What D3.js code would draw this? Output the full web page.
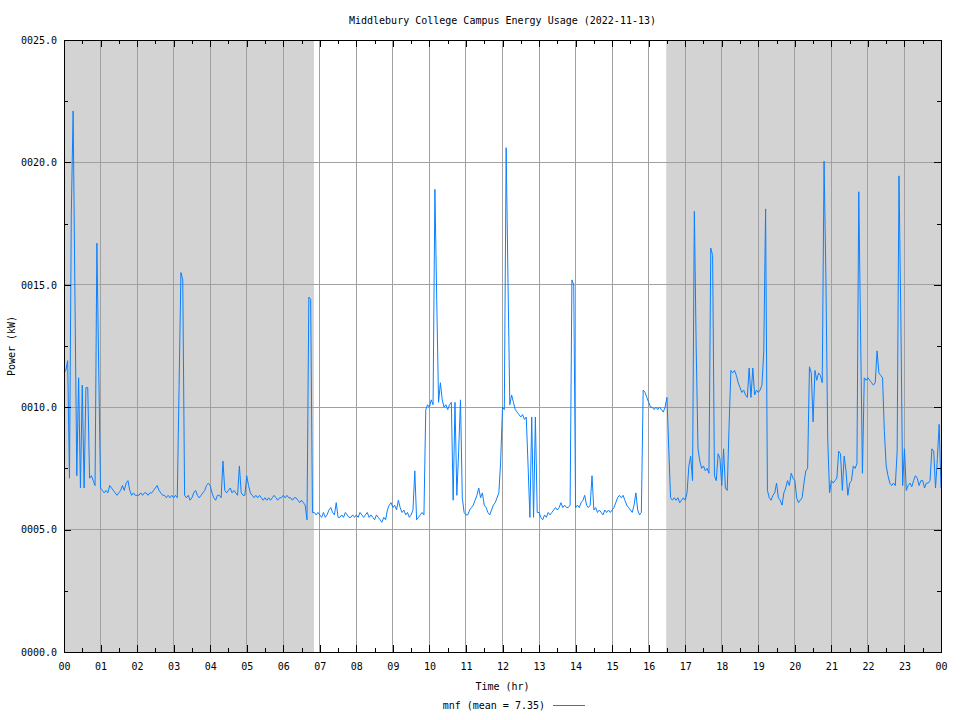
<!DOCTYPE html>
<html>
<head>
<meta charset="utf-8">
<script src="https://cdn.jsdelivr.net/npm/d3@7"></script>
<style>
    body { margin: 0; background: #fff; }
    svg text { font-family: 'DejaVu Sans Mono', monospace; font-size: 10px; fill: #000; }
</style>
</head>
<body>
<div id="chart"></div>
<script>
const chartTitle = 'Middlebury College Campus Energy Usage (2022-11-13)';
const xTitle = 'Time (hr)';
const yTitle = 'Power (kW)';
const seriesName = 'mnf';
const meanLabel = '7.35';

const stepMinutes = 3;
const hourTicks = d3.range(0, 25);
const halfHourTicks = d3.range(0.5, 24, 1);
const powerTicks = [0, 5, 10, 15, 20, 25];
const powerMinorTicks = [2.5, 7.5, 12.5, 17.5, 22.5];
// night shading (before sunrise / after sunset), hours
const nightBands = [[0, 6.84], [16.48, 24]];

// power readings in kW, one every 3 minutes
const hour00 = [11.4, 11.5, 11.9, 7.1, 17.9, 22.1, 14.5, 7.2, 11.2, 6.7, 10.9, 6.7, 10.8, 10.8, 7.1, 7.2, 7.0, 6.8, 16.7, 11.6];
const hour01 = [6.7, 6.6, 6.5, 6.6, 6.5, 6.8, 6.7, 6.6, 6.5, 6.4, 6.5, 6.6, 6.8, 6.6, 6.9, 7.0, 6.6, 6.4, 6.5, 6.4];
const hour02 = [6.4, 6.4, 6.5, 6.4, 6.5, 6.5, 6.4, 6.5, 6.5, 6.6, 6.7, 6.8, 6.6, 6.5, 6.4, 6.4, 6.3, 6.4, 6.3, 6.4];
const hour03 = [6.3, 6.4, 6.3, 10.9, 15.5, 15.2, 6.4, 6.3, 6.4, 6.2, 6.3, 6.5, 6.6, 6.4, 6.3, 6.4, 6.5, 6.6, 6.8, 6.9];
const hour04 = [6.8, 6.5, 6.3, 6.2, 6.4, 6.4, 6.3, 7.8, 6.6, 6.5, 6.6, 6.7, 6.5, 6.6, 6.5, 6.4, 7.6, 6.5, 6.4, 6.4];
const hour05 = [7.2, 6.8, 6.5, 6.4, 6.3, 6.4, 6.3, 6.4, 6.3, 6.2, 6.3, 6.2, 6.3, 6.2, 6.3, 6.4, 6.3, 6.2, 6.3, 6.3];
const hour06 = [6.4, 6.3, 6.4, 6.3, 6.3, 6.2, 6.3, 6.3, 6.2, 6.1, 6.2, 6.1, 6.0, 5.4, 14.5, 14.4, 5.7, 5.7, 5.6, 5.7];
const hour07 = [5.6, 5.5, 5.7, 5.5, 5.6, 5.8, 5.9, 5.7, 5.6, 6.1, 5.5, 5.5, 5.6, 5.5, 5.7, 5.6, 5.5, 5.5, 5.6, 5.5];
const hour08 = [5.6, 5.5, 5.7, 5.6, 5.5, 5.6, 5.7, 5.5, 5.6, 5.5, 5.4, 5.6, 5.5, 5.4, 5.3, 5.5, 5.4, 5.8, 6.0, 6.1];
const hour09 = [5.9, 6.0, 5.8, 6.2, 5.9, 5.7, 5.8, 5.6, 5.7, 5.5, 5.6, 5.8, 7.4, 5.4, 5.5, 5.6, 5.7, 5.6, 9.9, 10.1];
const hour10 = [10.0, 10.3, 10.1, 18.9, 14.4, 10.2, 11.0, 10.3, 10.0, 10.1, 9.9, 10.1, 10.2, 6.2, 10.2, 6.4, 8.2, 10.3, 6.3, 5.7];
const hour11 = [5.6, 5.6, 5.8, 5.9, 6.0, 6.2, 6.4, 6.7, 6.3, 6.5, 6.0, 5.9, 5.7, 5.6, 5.8, 6.0, 6.1, 6.3, 6.5, 7.8];
const hour12 = [10.0, 9.9, 20.6, 15.2, 10.1, 10.5, 10.2, 9.9, 9.8, 9.7, 9.6, 9.7, 9.5, 9.6, 7.6, 5.5, 9.6, 5.5, 9.6, 5.7];
const hour13 = [5.7, 5.5, 5.4, 5.6, 5.5, 5.7, 5.6, 5.7, 5.8, 5.9, 5.8, 5.9, 6.1, 5.9, 6.0, 5.9, 5.9, 6.0, 15.2, 15.0];
const hour14 = [5.9, 6.0, 5.9, 6.1, 6.2, 6.4, 6.0, 5.9, 6.0, 7.2, 5.8, 5.9, 5.7, 5.8, 5.7, 5.6, 5.8, 5.7, 5.8, 5.7];
const hour15 = [5.8, 5.9, 6.1, 6.3, 6.4, 6.3, 6.4, 6.2, 6.0, 5.9, 5.8, 5.7, 6.0, 6.5, 5.8, 5.6, 5.7, 10.7, 10.6, 10.4];
const hour16 = [10.2, 10.0, 10.0, 9.9, 10.0, 9.9, 10.0, 9.9, 9.8, 10.0, 10.4, 8.3, 6.3, 6.2, 6.3, 6.2, 6.3, 6.1, 6.2, 6.3];
const hour17 = [6.2, 6.5, 7.6, 8.0, 7.0, 18.0, 12.5, 8.3, 7.8, 7.5, 7.6, 7.4, 7.5, 7.3, 16.5, 16.2, 7.2, 7.0, 8.1, 7.9];
const hour18 = [6.8, 8.3, 6.7, 6.6, 9.2, 11.5, 11.4, 11.5, 11.3, 11.0, 10.8, 10.6, 10.7, 10.5, 10.4, 11.6, 10.4, 11.6, 10.5, 10.7];
const hour19 = [10.6, 10.7, 10.9, 12.3, 18.1, 6.6, 6.3, 6.2, 6.4, 6.5, 6.9, 6.3, 6.2, 6.0, 6.5, 6.7, 7.0, 6.8, 7.3, 7.1];
const hour20 = [7.0, 6.3, 6.1, 6.2, 6.3, 6.9, 7.4, 7.5, 11.65, 11.4, 9.4, 11.5, 11.1, 11.4, 11.3, 11.0, 20.05, 15.3, 8.7, 6.5];
const hour21 = [7.0, 6.9, 7.0, 7.1, 8.2, 8.1, 6.6, 8.0, 7.4, 6.4, 6.9, 7.0, 7.6, 7.5, 7.7, 18.8, 13.0, 7.3, 11.2, 11.1];
const hour22 = [11.2, 11.1, 11.0, 10.9, 11.0, 12.3, 11.4, 11.3, 11.2, 9.0, 7.6, 7.2, 6.9, 6.8, 6.9, 6.8, 8.2, 19.45, 13.8, 6.8];
const hour23 = [8.3, 6.6, 6.8, 6.9, 6.75, 7.0, 7.2, 7.1, 6.8, 7.0, 7.0, 6.7, 6.9, 6.9, 7.0, 8.3, 8.2, 6.7, 7.9, 9.3];
const hour24 = [6.7];

const width = 960;
const height = 720;
const margin = { top: 40, right: 19, bottom: 68, left: 64 };
const innerW = width - margin.left - margin.right;
const innerH = height - margin.top - margin.bottom;

const power = [].concat(hour00, hour01, hour02, hour03, hour04, hour05, hour06, hour07,
    hour08, hour09, hour10, hour11, hour12, hour13, hour14, hour15, hour16, hour17,
    hour18, hour19, hour20, hour21, hour22, hour23, hour24);
const data = power.map((v, i) => ({ hour: i * stepMinutes / 60, kw: v }));

const svg = d3.select('#chart').append('svg')
    .attr('width', width)
    .attr('height', height);

const chart = svg.append('g')
    .attr('transform', `translate(${margin.left}, ${margin.top})`);

const x = d3.scaleLinear().domain([0, 24]).range([0, innerW]);
const y = d3.scaleLinear().domain([0, 25]).range([innerH, 0]);

// night shading
chart.selectAll('rect.night')
    .data(nightBands)
    .join('rect')
    .attr('class', 'night')
    .attr('x', d => x(d[0]))
    .attr('y', 0)
    .attr('width', d => x(d[1]) - x(d[0]))
    .attr('height', innerH)
    .attr('fill', '#d3d3d3');

// grid
const grid = chart.append('g').attr('shape-rendering', 'crispEdges');
grid.selectAll('line.vgrid')
    .data(hourTicks.slice(1, -1))
    .join('line')
    .attr('x1', d => x(d)).attr('x2', d => x(d))
    .attr('y1', 0).attr('y2', innerH)
    .attr('stroke', '#a0a0a0');
grid.selectAll('line.hgrid')
    .data(powerTicks.slice(1, -1))
    .join('line')
    .attr('x1', 0).attr('x2', innerW)
    .attr('y1', d => y(d)).attr('y2', d => y(d))
    .attr('stroke', '#a0a0a0');

// series
const line = d3.line()
    .x(d => x(d.hour))
    .y(d => y(d.kw));

chart.append('path')
    .datum(data)
    .attr('fill', 'none')
    .attr('stroke', '#0a80ff')
    .attr('stroke-width', 1)
    .attr('d', line);

// axes, ticks pointing inward on all four sides
const hourLabel = d => String(d % 24).padStart(2, '0');

function addAxis(axisFn, scale, values, size, transform, labels, padding) {
    const g = chart.append('g')
        .attr('transform', transform)
        .attr('shape-rendering', 'crispEdges')
        .call(axisFn(scale)
            .tickValues(values)
            .tickSizeInner(-size)
            .tickSizeOuter(0)
            .tickPadding(padding)
            .tickFormat(labels || (() => '')));
    g.select('.domain').remove();
    g.selectAll('.tick line').attr('stroke', '#000');
    g.attr('font-family', null).attr('font-size', null);
    return g;
}

addAxis(d3.axisBottom, x, hourTicks, 7, `translate(0, ${innerH})`, hourLabel, 11);
addAxis(d3.axisBottom, x, halfHourTicks, 4, `translate(0, ${innerH})`, null, 0);
addAxis(d3.axisTop, x, hourTicks, 7, 'translate(0, 0)', null, 0);
addAxis(d3.axisTop, x, halfHourTicks, 4, 'translate(0, 0)', null, 0);
addAxis(d3.axisLeft, y, powerTicks, 7, 'translate(0, 0)', d3.format('06.1f'), 7);
addAxis(d3.axisLeft, y, powerMinorTicks, 4, 'translate(0, 0)', null, 0);
addAxis(d3.axisRight, y, powerTicks, 7, `translate(${innerW}, 0)`, null, 0);
addAxis(d3.axisRight, y, powerMinorTicks, 4, `translate(${innerW}, 0)`, null, 0);

// border
chart.append('rect')
    .attr('x', 0).attr('y', 0)
    .attr('width', innerW).attr('height', innerH)
    .attr('fill', 'none')
    .attr('stroke', '#000')
    .attr('shape-rendering', 'crispEdges');

// titles
svg.append('text')
    .attr('x', margin.left + innerW / 2)
    .attr('y', 20)
    .attr('dy', '0.35em')
    .attr('text-anchor', 'middle')
    .text(chartTitle);

svg.append('text')
    .attr('x', margin.left + innerW / 2)
    .attr('y', 686)
    .attr('dy', '0.35em')
    .attr('text-anchor', 'middle')
    .text(xTitle);

svg.append('text')
    .attr('transform', `translate(11, ${margin.top + innerH / 2}) rotate(-90)`)
    .attr('dy', '0.35em')
    .attr('text-anchor', 'middle')
    .text(yTitle);

// legend
const legend = svg.append('g');
legend.append('text')
    .attr('x', 545)
    .attr('y', 705)
    .attr('dy', '0.35em')
    .attr('text-anchor', 'end')
    .text(`${seriesName} (mean = ${meanLabel})`);
legend.append('line')
    .attr('x1', 553).attr('x2', 585)
    .attr('y1', 705).attr('y2', 705)
    .attr('stroke', '#0a80ff')
    .attr('shape-rendering', 'crispEdges');
</script>
</body>
</html>
